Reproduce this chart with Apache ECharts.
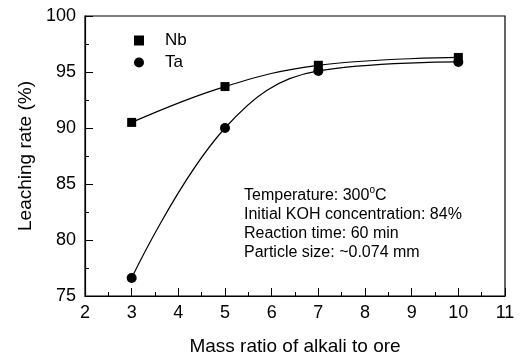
<!DOCTYPE html>
<html><head><meta charset="utf-8">
<script src="https://cdn.jsdelivr.net/npm/echarts@6/dist/echarts.min.js"></script>
<style>html,body{margin:0;padding:0;background:#fff}#c{width:522px;height:361px}</style>
</head><body><div id="c"></div>
<script>
const ratios = [3, 5, 7, 10];
const nbRate = [90.5, 93.7, 95.6, 96.3];
const taRate = [76.6, 90.0, 95.1, 95.9];
const seriesNames = ['Nb', 'Ta'];
const noteLines = ['Initial KOH concentration: 84%', 'Reaction time: 60 min', 'Particle size: ~0.074 mm'];
const xTicks = {min: 2, max: 11, interval: 1};
const yTicks = {min: 75, max: 100, interval: 5};

const FONT = '"Liberation Sans", Arial, sans-serif';
const chart = echarts.init(document.getElementById('c'), null, {renderer: 'canvas'});
const pair = (xs, ys) => xs.map((x, i) => [x, ys[i]]);
const axisCommon = {
  axisLine: {show: true, onZero: false, lineStyle: {color: '#000', width: 1.2}},
  axisTick: {show: true, inside: true, length: 8, lineStyle: {color: '#000', width: 1}},
  minorTick: {show: true, splitNumber: 2, length: 4, lineStyle: {color: '#000', width: 1}},
  splitLine: {show: false},
  axisLabel: {color: '#000', fontSize: 18, fontFamily: FONT},
  nameTextStyle: {color: '#000', fontSize: 19, fontFamily: FONT}
};
chart.setOption({
  animation: false,
  backgroundColor: '#fff',
  grid: {left: 85, top: 16, right: 17, bottom: 64, show: true, borderColor: '#000', borderWidth: 1.2, containLabel: false},
  xAxis: Object.assign({}, axisCommon, {
    type: 'value', min: xTicks.min, max: xTicks.max, interval: xTicks.interval,
    name: 'Mass ratio of alkali to ore', nameLocation: 'middle', nameGap: 41,
    axisLabel: Object.assign({}, axisCommon.axisLabel, {margin: 8})
  }),
  yAxis: Object.assign({}, axisCommon, {
    type: 'value', min: yTicks.min, max: yTicks.max, interval: yTicks.interval,
    name: 'Leaching rate (%)', nameLocation: 'middle', nameGap: 47,
    axisLabel: Object.assign({}, axisCommon.axisLabel, {margin: 9})
  }),
  legend: {
    orient: 'vertical', left: 129, top: 27, itemWidth: 10, itemHeight: 10, itemGap: 5,
    textStyle: {color: '#000', fontSize: 17, fontFamily: FONT, padding: [0, 0, 0, 16]},
    data: [{name: seriesNames[0], icon: 'rect'}, {name: seriesNames[1], icon: 'circle'}]
  },
  series: [
    {name: seriesNames[0], type: 'line', data: pair(ratios, nbRate), smooth: 0.4,
     symbol: 'rect', symbolSize: 9, lineStyle: {color: '#000', width: 1.2}, itemStyle: {color: '#000'}},
    {name: seriesNames[1], type: 'line', data: pair(ratios, taRate), smooth: 0.4,
     symbol: 'circle', symbolSize: 10, lineStyle: {color: '#000', width: 1.2}, itemStyle: {color: '#000'}}
  ],
  graphic: [
    {type: 'text', left: 244, top: 185, style: {
      text: '{a|Temperature: 300}{s|o}{a|C}',
      rich: {a: {fontSize: 16, fontFamily: FONT, fill: '#000', verticalAlign: 'bottom', lineHeight: 19},
             s: {fontSize: 10, fontFamily: FONT, fill: '#000', verticalAlign: 'top', lineHeight: 19}}
    }},
    {type: 'text', left: 244, top: 205, style: {text: noteLines.join('\n'), fontSize: 16, fontFamily: FONT, fill: '#000', lineHeight: 19}}
  ]
});
</script></body></html>
